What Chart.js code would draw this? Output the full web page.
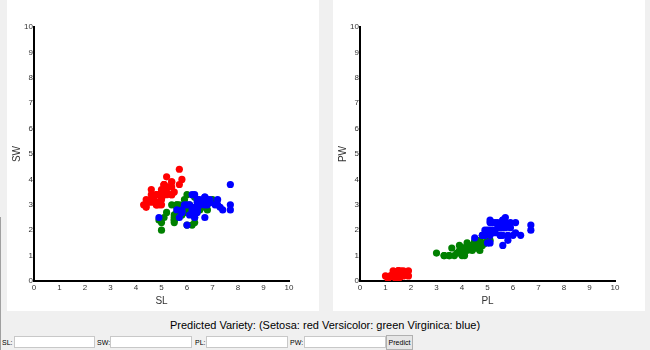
<!DOCTYPE html>
<html>
<head>
<meta charset="utf-8">
<script src="https://cdn.jsdelivr.net/npm/chart.js@4/dist/chart.umd.min.js"></script>
<style>
  body { margin: 0; width: 650px; height: 350px; background: #f0f0f0; position: relative; overflow: hidden; font-family: "Liberation Sans", Arial, sans-serif; }
  .panel { position: absolute; top: 0; width: 312px; height: 311px; background: #fff; }
  #edge { position: absolute; left: 0; top: 217px; width: 1px; height: 133px; background: #a0a0a0; }
  #predicted { position: absolute; left: 0; top: 319px; width: 650px; text-align: center; font-size: 11px; color: #000; }
  .lbl { position: absolute; top: 339px; font-size: 7px; color: #000; }
  .inp { position: absolute; top: 336px; height: 12px; background: #fff; border: 1px solid #c8c8c8; box-sizing: border-box; }
  #btn { position: absolute; left: 386px; top: 335px; width: 27px; height: 15px; background: #e6e6e6; border: 1px solid #b0b0b0; box-sizing: border-box; font-size: 7px; text-align: center; line-height: 13px; }
</style>
</head>
<body>
<div class="panel" style="left:7px"><canvas id="sepal" width="312" height="311"></canvas></div>
<div class="panel" style="left:333px"><canvas id="petal" width="312" height="311"></canvas></div>
<div id="edge"></div>
<div id="predicted">Predicted Variety: (Setosa: red Versicolor: green Virginica: blue)</div>
<div class="lbl" style="left:2px">SL:</div><div class="inp" style="left:14px;width:81px"></div>
<div class="lbl" style="left:97px">SW:</div><div class="inp" style="left:110px;width:82px"></div>
<div class="lbl" style="left:195px">PL:</div><div class="inp" style="left:206px;width:82px"></div>
<div class="lbl" style="left:290px">PW:</div><div class="inp" style="left:304px;width:82px"></div>
<div id="btn">Predict</div>
<script>
// iris measurements, as seen in the picture
var setosaSL = [5.1,4.9,4.7,4.6,5.0,5.4,4.6,5.0,4.4,4.9,5.4,4.8,4.8,4.3,5.8,5.7,5.4,5.1,5.7,5.1,5.4,5.1,4.6,4.8,5.0,5.0,5.2,5.2,4.7,4.8,5.4,5.2,4.9,5.0,5.5,4.9,4.4,5.1,5.0,4.4,5.1,4.8,5.1,4.6,5.3,5.0];
var setosaSW = [3.5,3.0,3.2,3.1,3.6,3.9,3.4,3.4,2.9,3.1,3.7,3.4,3.0,3.0,4.0,4.4,3.9,3.5,3.8,3.8,3.4,3.7,3.6,3.4,3.0,3.4,3.5,3.4,3.2,3.1,3.4,4.1,3.1,3.2,3.5,3.1,3.0,3.4,3.5,3.2,3.8,3.0,3.8,3.2,3.7,3.3];
var setosaPL = [1.4,1.4,1.3,1.5,1.4,1.7,1.4,1.5,1.4,1.5,1.5,1.6,1.4,1.1,1.2,1.5,1.3,1.4,1.7,1.5,1.7,1.5,1.0,1.9,1.6,1.6,1.5,1.4,1.6,1.6,1.5,1.5,1.5,1.2,1.3,1.5,1.3,1.5,1.3,1.3,1.9,1.4,1.6,1.4,1.5,1.4];
var setosaPW = [0.2,0.2,0.2,0.2,0.2,0.4,0.3,0.2,0.2,0.1,0.2,0.2,0.1,0.1,0.2,0.4,0.4,0.3,0.3,0.3,0.2,0.4,0.2,0.2,0.2,0.4,0.2,0.2,0.2,0.2,0.4,0.1,0.2,0.2,0.2,0.1,0.2,0.2,0.3,0.2,0.4,0.3,0.2,0.2,0.2,0.2];

var versicolorSL = [7.0,6.4,6.9,5.5,6.5,5.7,6.3,4.9,6.6,5.2,5.0,5.9,6.0,6.1,5.6,6.7,5.6,5.8,6.2,5.6,5.9,6.1,6.3,6.1,6.4,6.6,6.8,6.7,6.0,5.7,5.5,5.5,5.8,6.0,5.4,6.0,6.7,6.3,5.6,5.5,5.5,6.1,5.8,5.0,5.6,5.7,5.7,6.2,5.1,5.7];
var versicolorSW = [3.2,3.2,3.1,2.3,2.8,2.8,3.3,2.4,2.9,2.7,2.0,3.0,2.2,2.9,2.9,3.1,3.0,2.7,2.2,2.5,3.2,2.8,2.5,2.8,2.9,3.0,2.8,3.0,2.9,2.6,2.4,2.4,2.7,2.7,3.0,3.4,3.1,2.3,3.0,2.5,2.6,3.0,2.6,2.3,2.7,3.0,2.9,2.9,2.5,2.8];
var versicolorPL = [4.7,4.5,4.9,4.0,4.6,4.5,4.7,3.3,4.6,3.9,3.5,4.2,4.0,4.7,3.6,4.4,4.5,4.1,4.5,3.9,4.8,4.0,4.9,4.7,4.3,4.4,4.8,5.0,4.5,3.5,3.8,3.7,3.9,5.1,4.5,4.5,4.7,4.4,4.1,4.0,4.4,4.6,4.0,3.3,4.2,4.2,4.2,4.3,3.0,4.1];
var versicolorPW = [1.4,1.5,1.5,1.3,1.5,1.3,1.6,1.0,1.3,1.4,1.0,1.5,1.0,1.4,1.3,1.4,1.5,1.0,1.5,1.1,1.8,1.3,1.5,1.2,1.3,1.4,1.4,1.7,1.5,1.0,1.1,1.0,1.2,1.6,1.5,1.6,1.5,1.3,1.3,1.3,1.2,1.4,1.2,1.0,1.3,1.2,1.3,1.3,1.1,1.3];

var virginicaSL = [5.8,7.1,6.3,6.5,4.9,7.3,6.7,6.5,6.4,6.8,5.7,5.8,6.4,6.5,7.7,6.0,6.9,5.6,7.7,6.3,6.7,7.2,6.2,6.1,6.4,7.2,7.4,6.4,6.3,6.1,7.7,6.3,6.4,6.0,6.9,6.7,6.9,5.8,6.8,6.7,6.7,6.3,6.5,6.2,5.9];
var virginicaSW = [2.7,3.0,2.9,3.0,2.5,2.9,2.5,3.2,2.7,3.0,2.5,2.8,3.2,3.0,3.8,2.2,3.2,2.8,2.8,2.7,3.3,3.2,2.8,3.0,2.8,3.0,2.8,2.8,2.8,2.6,3.0,3.4,3.1,3.0,3.1,3.1,3.1,2.7,3.2,3.3,3.0,2.5,3.0,3.4,3.0];
var virginicaPL = [5.1,5.9,5.6,5.8,4.5,6.3,5.8,5.1,5.3,5.5,5.0,5.1,5.3,5.5,6.7,5.0,5.7,4.9,6.7,4.9,5.7,6.0,4.8,4.9,5.6,5.8,6.1,5.6,5.1,5.6,6.1,5.6,5.5,4.8,5.4,5.6,5.1,5.1,5.9,5.7,5.2,5.0,5.2,5.4,5.1];
var virginicaPW = [1.9,2.1,1.8,2.2,1.7,1.8,1.8,2.0,1.9,2.1,2.0,2.4,2.3,1.8,2.2,1.5,2.3,2.0,2.0,1.8,2.1,1.8,1.8,1.8,2.1,1.6,1.9,2.2,1.5,1.4,2.3,2.4,1.8,1.8,2.1,2.4,2.3,1.9,2.3,2.5,2.3,1.9,2.0,2.3,1.8];

var axisTicks = [0,1,2,3,4,5,6,7,8,9,10];

function points(xs, ys) {
  var out = [];
  for (var i = 0; i < xs.length; i++) {
    out.push({ x: xs[i], y: ys[i] });
  }
  return out;
}

function dataset(xs, ys, color) {
  return {
    data: points(xs, ys),
    backgroundColor: color,
    borderColor: color,
    borderWidth: 0,
    pointRadius: 3.6,
    pointHoverRadius: 3.6
  };
}

function axis(title, isX) {
  return {
    type: 'linear',
    min: 0,
    max: 10,
    afterBuildTicks: function (scale) {
      scale.ticks = axisTicks.map(function (v) { return { value: v }; });
    },
    afterFit: function (scale) {
      if (isX) scale.height = 30; else scale.width = 27;
    },
    grid: { display: false, drawTicks: false },
    border: { display: true, color: '#000', width: 2 },
    ticks: {
      padding: isX ? 2 : 1,
      color: '#333',
      font: { family: 'Liberation Sans, Arial, sans-serif', size: 8 },
      maxRotation: 0
    },
    title: {
      display: true,
      text: title,
      color: '#333',
      padding: { top: 4, bottom: 4 },
      font: { family: 'Liberation Sans, Arial, sans-serif', size: 10 }
    }
  };
}

function graficoIris(id, redX, redY, greenX, greenY, blueX, blueY, xTitle, yTitle) {
  var ctx = document.getElementById(id).getContext('2d');
  return new Chart(ctx, {
    type: 'scatter',
    data: {
      datasets: [
        dataset(blueX, blueY, '#0000ff'),
        dataset(greenX, greenY, '#008000'),
        dataset(redX, redY, '#ff0000')
      ]
    },
    options: {
      responsive: false,
      animation: false,
      layout: { padding: { left: 0, top: 27, right: 30, bottom: 0 } },
      plugins: { legend: { display: false }, tooltip: { enabled: false } },
      scales: {
        x: axis(xTitle, true),
        y: axis(yTitle, false)
      }
    }
  });
}

graficoIris('sepal', setosaSL, setosaSW, versicolorSL, versicolorSW, virginicaSL, virginicaSW, 'SL', 'SW');
graficoIris('petal', setosaPL, setosaPW, versicolorPL, versicolorPW, virginicaPL, virginicaPW, 'PL', 'PW');
</script>
</body>
</html>
